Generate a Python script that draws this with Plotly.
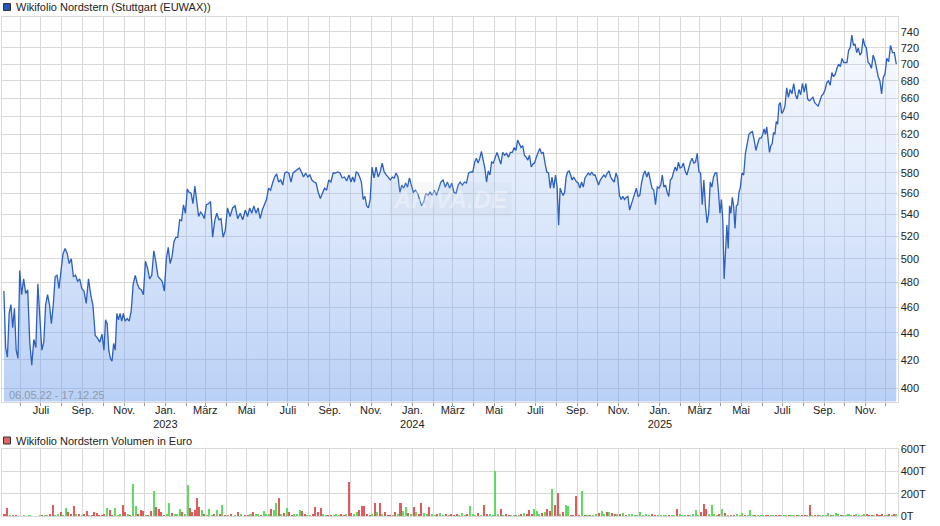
import pandas as pd
import plotly.graph_objects as go

# ---------------- data ----------------
first_day = "2022-05-06"
last_day = "2025-12-17"
months = [str(p) for p in pd.period_range("2022-05", "2025-12", freq="M")]

price_by_month = [
    [473, 429, 422, 455, 462, 444, 459, 427, 421, 490],            # 2022-05
    [470, 483, 471, 474, 433, 416, 435, 429, 479, 452],            # 2022-06
    [427, 433, 462, 470, 462, 447, 462, 485, 486, 475, 492],       # 2022-07
    [504, 509, 505, 496, 500, 485, 486, 481, 483, 475],            # 2022-08
    [473, 463, 483, 470, 461, 438, 436, 433, 439],                 # 2022-09
    [427, 450, 447, 427, 421, 419, 432, 427, 455, 450, 455, 449, 455],  # 2022-10
    [449, 451, 449, 457, 479, 486, 479, 475, 474, 470],            # 2022-11
    [498, 492, 483, 486, 507, 497, 485, 483, 481, 473],            # 2022-12
    [500, 510, 496, 502, 515, 519, 519, 535, 534, 549, 541],       # 2023-01
    [564, 561, 560, 550, 567, 554, 538, 542, 540, 536],            # 2023-02
    [549, 550, 552, 519, 534, 541, 535, 536, 519, 525],            # 2023-03
    [546, 538, 546, 548, 536, 541, 535, 544],                      # 2023-04
    [538, 546, 541, 548, 541, 546, 536, 544, 549, 554],            # 2023-05
    [565, 563, 570, 576, 579, 571, 573, 568, 580, 581],            # 2023-06
    [580, 571, 580, 582, 583, 585, 581, 576, 580, 576],            # 2023-07
    [578, 573, 571, 570, 561, 555, 560, 565, 563, 573],            # 2023-08
    [571, 580, 580, 581, 580, 575, 576, 572, 578],                 # 2023-09
    [571, 576, 571, 581, 580, 576, 571, 554, 557, 548, 546, 554],  # 2023-10
    [586, 575, 586, 576, 581, 590, 581, 578, 575, 573],            # 2023-11
    [576, 575, 580, 576, 561, 568, 565, 570, 566, 575, 568],       # 2023-12
    [561, 563, 560, 554, 548, 552, 560, 558, 561, 558],            # 2024-01
    [563, 558, 565, 571, 573, 566, 571, 565, 570],                 # 2024-02
    [561, 560, 568, 571, 568, 571, 570, 580, 581, 581],            # 2024-03
    [591, 595, 590, 595, 602, 593, 585, 571, 582, 578, 591, 590],  # 2024-04
    [596, 601, 595, 589, 601, 598, 600, 596, 601, 601, 606],       # 2024-05
    [603, 614, 610, 606, 608, 598, 596, 593, 598, 586, 589, 590],  # 2024-06
    [596, 601, 605, 600, 601, 590, 581, 580, 565, 576, 565, 578],  # 2024-07
    [566, 530, 565, 561, 558, 561, 576, 581, 582, 578, 573, 576, 573, 571],  # 2024-08
    [570, 565, 571, 566, 575, 578, 580, 578, 581, 578, 578, 573],  # 2024-09
    [568, 573, 576, 578, 576, 580, 582, 576, 573, 571, 580, 575],  # 2024-10
    [558, 554, 557, 554, 556, 557, 544, 549, 556, 560, 565, 557],  # 2024-11
    [558, 570, 578, 582, 576, 581, 571, 565, 563, 549, 566, 565],  # 2024-12
    [568, 578, 566, 568, 561, 557, 573, 575, 581, 586, 582, 591, 585],  # 2025-01
    [586, 590, 582, 578, 586, 591, 595, 590, 591, 600, 581],       # 2025-02
    [580, 549, 573, 548, 532, 541, 571, 566, 576, 580, 580, 563, 541],  # 2025-03
    [554, 534, 483, 504, 530, 509, 548, 541, 556, 548, 527, 548, 549, 561, 566],  # 2025-04
    [580, 578, 600, 612, 620, 622, 623, 614, 603, 610, 616, 616],  # 2025-05
    [620, 626, 620, 628, 617, 601, 608, 610, 622, 620, 634, 631, 653, 655, 643],  # 2025-06
    [645, 651, 672, 661, 670, 665, 677, 664, 659, 670, 664, 677],  # 2025-07
    [667, 677, 659, 657, 659, 661, 655, 653, 651, 657, 663, 665],  # 2025-08
    [670, 678, 680, 675, 690, 685, 688, 695, 700, 697, 707, 702],  # 2025-09
    [702, 702, 717, 720, 736, 723, 725, 714, 720, 711, 714, 732, 723],  # 2025-10
    [720, 702, 700, 695, 711, 705, 695, 685, 680, 665, 684, 688],  # 2025-11
    [707, 703, 723, 714, 714, 700],                                # 2025-12
]

# volume in thousand euro (T)
volume_by_month = [
    [25, 70, 15, 8, 12, 5],
    [5, 8, 3, 10, 5, 6, 4, 8],
    [10, 8, 15, 20, 100, 10, 20, 40],
    [15, 78, 35, 25, 93, 20, 25, 12],
    [20, 51, 10, 8, 40, 30, 10, 8],
    [20, 72, 60, 15, 78, 10, 20, 100],
    [40, 25, 15, 290, 93, 20, 57, 45],
    [15, 10, 50, 227, 87, 63, 40, 12],
    [20, 116, 30, 20, 25, 66, 35, 25],
    [280, 70, 35, 57, 161, 80, 57, 25],
    [15, 66, 15, 25, 57, 20, 100, 10],
    [10, 20, 15, 42, 25, 10],
    [15, 20, 35, 25, 20, 15, 51, 20],
    [20, 63, 60, 122, 161, 20, 30, 75],
    [40, 15, 25, 20, 57, 45, 20, 10],
    [15, 20, 87, 40, 78, 20, 15, 10],
    [10, 15, 20, 10, 20, 15, 25, 310],
    [30, 20, 35, 57, 93, 93, 20, 15],
    [20, 122, 40, 122, 20, 42, 15, 15],
    [15, 40, 20, 122, 50, 81, 30, 20],
    [81, 40, 20, 122, 30, 25, 81, 20],
    [15, 20, 30, 15, 20, 15, 25],
    [15, 20, 15, 33, 15, 20, 90, 20],
    [15, 30, 15, 99, 20, 25, 15],
    [406, 20, 63, 15, 20, 10, 15, 10],
    [15, 10, 25, 30, 20, 60, 20, 63],
    [45, 20, 30, 40, 69, 45, 244, 99],
    [211, 20, 35, 99, 93, 10, 10, 180],
    [10, 226, 15, 10, 10, 15, 20],
    [30, 45, 25, 40, 35, 30, 20, 25],
    [20, 30, 15, 25, 20, 15, 15],
    [40, 15, 20, 15, 20, 15, 10],
    [10, 15, 10, 15, 10, 15, 63, 25],
    [10, 15, 10, 15, 20, 54, 10],
    [40, 108, 63, 20, 99, 20, 15, 20],
    [63, 30, 15, 10, 15, 20, 10],
    [30, 15, 10, 54, 15, 10, 10, 15],
    [10, 15, 10, 10, 15, 10, 10, 15],
    [10, 10, 15, 10, 10, 15, 10, 10],
    [15, 10, 99, 15, 10, 10, 15, 10],
    [15, 30, 15, 10, 30, 20, 15, 10],
    [15, 20, 10, 15, 20, 10, 15, 20],
    [20, 15, 10, 15, 20, 15, 20, 10],
    [15, 20, 15, 24, 25],
]

price_ticks = [400, 420, 440, 460, 480, 500, 520, 540, 560, 580, 600,
               620, 640, 660, 680, 700, 720, 740]
volume_ticks = [0, 200, 400, 600]
volume_ticktext = ["0T", "200T", "400T", "600T"]
x_tickvals = ["2022-07-01", "2022-09-01", "2022-11-01",
              "2023-01-01", "2023-03-01", "2023-05-01", "2023-07-01", "2023-09-01", "2023-11-01",
              "2024-01-01", "2024-03-01", "2024-05-01", "2024-07-01", "2024-09-01", "2024-11-01",
              "2025-01-01", "2025-03-01", "2025-05-01", "2025-07-01", "2025-09-01", "2025-11-01"]
x_ticktext = ["Juli", "Sep.", "Nov.",
              "Jan.<br>2023", "März", "Mai", "Juli", "Sep.", "Nov.",
              "Jan.<br>2024", "März", "Mai", "Juli", "Sep.", "Nov.",
              "Jan.<br>2025", "März", "Mai", "Juli", "Sep.", "Nov."]

# ---------------- place readings within their month ----------------
t_first = pd.Timestamp(first_day)
t_last = pd.Timestamp(last_day) + pd.Timedelta(hours=20)


def month_dates(month, n):
    s = max(pd.Timestamp(month + "-01"), t_first)
    e = min(pd.Timestamp(month + "-01") + pd.offsets.MonthBegin(1), t_last)
    return [s + (e - s) * (k + 0.5) / n for k in range(n)]


p_dates, p_vals = [], []
for m, vals in zip(months, price_by_month):
    p_dates += month_dates(m, len(vals))
    p_vals += vals
price = pd.Series(p_vals, index=pd.DatetimeIndex(p_dates))

v_dates, v_vals = [], []
for m, vals in zip(months, volume_by_month):
    v_dates += month_dates(m, len(vals))
    v_vals += vals

# bar colour: green if price rose into that day, red otherwise
v_colors = []
for d in v_dates:
    hist = price[price.index <= d]
    if len(hist) >= 2 and hist.iloc[-1] >= hist.iloc[-2]:
        v_colors.append("#5fdc5f")
    else:
        v_colors.append("#e05c5c")

# ---------------- figure ----------------
GRID = "#d9d9d9"
FONT = "Liberation Sans, Arial, sans-serif"
W, H = 940, 526
x_dom = [2 / W, 897.5 / W]
xrange = ["2022-05-04 12:00", "2025-12-18 06:00"]
month_grid = [m + "-01" for m in months[1:]]

fig = go.Figure()
fig.add_trace(go.Scatter(
    x=price.index, y=price.values, mode="lines",
    line=dict(color="#2b5fc0", width=1.3),
    fill="tozeroy",
    fillgradient=dict(type="vertical",
                      colorscale=[[0, "rgba(110,158,236,0.48)"], [1, "rgba(140,178,244,0.05)"]],
                      start=391, stop=760),
    xaxis="x", yaxis="y", hoverinfo="skip"))

fig.add_trace(go.Bar(
    x=v_dates, y=v_vals, marker=dict(color=v_colors, line=dict(width=0)),
    width=3 * 86400000, xaxis="x2", yaxis="y2", hoverinfo="skip"))

common_x = dict(type="date", range=xrange, domain=x_dom,
                showgrid=True, gridcolor=GRID, gridwidth=1,
                showline=True, linecolor=GRID, linewidth=1, mirror=True,
                zeroline=False)

fig.update_layout(
    template="none",
    width=W, height=H,
    margin=dict(l=0, r=0, t=0, b=0, autoexpand=False),
    paper_bgcolor="white", plot_bgcolor="rgba(0,0,0,0)",
    showlegend=False, bargap=0,
    font=dict(family=FONT, size=11, color="#222"),
    xaxis=dict(**common_x, anchor="y",
               tickmode="array", tickvals=x_tickvals, ticktext=x_ticktext,
               ticks="outside", ticklen=3, tickcolor="#999",
               ticklabelstandoff=-5,
               tickfont=dict(family=FONT, size=11, color="#222"),
               minor=dict(tickmode="array", tickvals=month_grid, showgrid=True,
                          gridcolor=GRID, gridwidth=1,
                          ticks="outside", ticklen=3, tickcolor="#999")),
    yaxis=dict(type="log", domain=[1 - 401.5 / H, 1 - 16.5 / H],
               range=[2.59193, 2.88086], side="right", anchor="x",
               tickmode="array", tickvals=price_ticks,
               ticktext=[str(v) for v in price_ticks],
               showgrid=True, gridcolor=GRID, gridwidth=1,
               showline=True, linecolor=GRID, mirror=True, zeroline=False,
               ticks="", tickfont=dict(family=FONT, size=11, color="#222")),
    xaxis2=dict(**common_x, anchor="y2", showticklabels=False, ticks="",
                tickmode="array", tickvals=month_grid),
    yaxis2=dict(domain=[1 - 516.3 / H, 1 - 449.3 / H], range=[0, 600],
                side="right", anchor="x2",
                tickmode="array", tickvals=volume_ticks, ticktext=volume_ticktext,
                showgrid=True, gridcolor=GRID, gridwidth=1,
                showline=True, linecolor=GRID, mirror=True, zeroline=False,
                ticks="", tickfont=dict(family=FONT, size=11, color="#222")),
)

# legend-like headers
fig.add_shape(type="rect", xref="paper", yref="paper",
              x0=3.5 / W, x1=10.5 / W, y0=1 - 10.5 / H, y1=1 - 3.5 / H,
              fillcolor="#2255bb", line=dict(color="#333", width=1))
fig.add_annotation(xref="paper", yref="paper", x=14 / W, y=1 - 7 / H,
                   xanchor="left", yanchor="middle", showarrow=False,
                   text="Wikifolio Nordstern (Stuttgart (EUWAX))",
                   font=dict(family=FONT, size=11, color="#222"))
fig.add_shape(type="rect", xref="paper", yref="paper",
              x0=3.5 / W, x1=10.5 / W, y0=1 - 444 / H, y1=1 - 437 / H,
              fillcolor="#e06666", line=dict(color="#333", width=1))
fig.add_annotation(xref="paper", yref="paper", x=14 / W, y=1 - 440.5 / H,
                   xanchor="left", yanchor="middle", showarrow=False,
                   text="Wikifolio Nordstern Volumen in Euro",
                   font=dict(family=FONT, size=11, color="#222"))
# date range label
fig.add_annotation(xref="paper", yref="paper", x=7 / W, y=1 - 395 / H,
                   xanchor="left", yanchor="middle", showarrow=False,
                   text=f"{t_first:%d.%m.%y} - {pd.Timestamp(last_day):%d.%m.%y}",
                   font=dict(family=FONT, size=11, color="#8f99ab"))
# watermark
fig.add_annotation(xref="paper", yref="paper", x=450 / W, y=1 - 200 / H,
                   xanchor="center", yanchor="middle", showarrow=False,
                   text="<b><i>ARIVA.DE</i></b>",
                   bgcolor="rgba(190,198,215,0.15)", borderpad=3,
                   font=dict(family=FONT, size=24, color="rgba(255,255,255,0.35)"))

fig.write_html("out.html",
               config={"displayModeBar": False, "staticPlot": True},
               post_script="document.body.style.margin='0';document.body.style.overflow='hidden';")
